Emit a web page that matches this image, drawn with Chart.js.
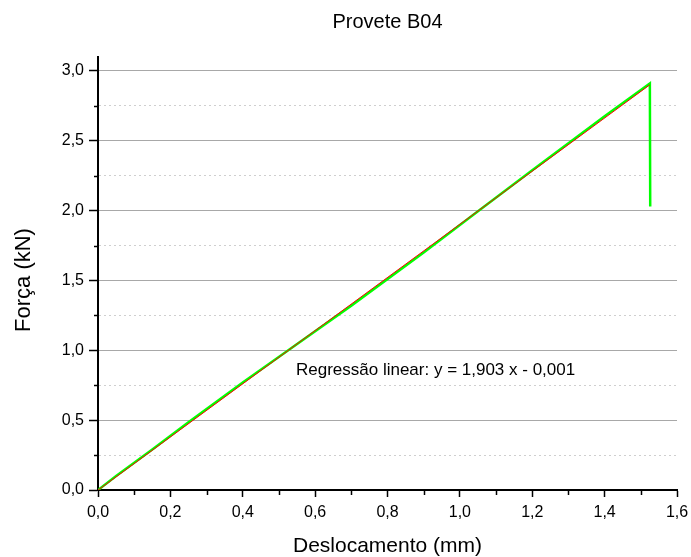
<!DOCTYPE html>
<html>
<head>
<meta charset="utf-8">
<script src="https://cdn.jsdelivr.net/npm/chart.js@4"></script>
<style>
  html, body { margin: 0; padding: 0; background: #fff; }
  #wrap { width: 691px; height: 557px; }
</style>
</head>
<body>
<div id="wrap"><canvas id="provete"></canvas></div>
<script>
// ensaio: deslocamento (mm) vs força (kN)
const deslocamento = [0, 0.05, 0.15, 0.25, 0.4, 0.52, 0.7, 0.9, 1.05, 1.2, 1.4, 1.525, 1.526];
const forca        = [0, 0.10, 0.29, 0.485, 0.77, 0.99, 1.32, 1.70, 1.995, 2.29, 2.675, 2.91, 2.03];

// regressão linear y = 1,903 x - 0,001
const declive = 1.903;
const ordenada = -0.001;
const regX = [0, 1.525];

const xTicks = [0, 0.2, 0.4, 0.6, 0.8, 1.0, 1.2, 1.4, 1.6];
const yTicks = [0, 0.5, 1.0, 1.5, 2.0, 2.5, 3.0];
const xMinor = [0.1, 0.3, 0.5, 0.7, 0.9, 1.1, 1.3, 1.5];
const yMinor = [0.25, 0.75, 1.25, 1.75, 2.25, 2.75];

const fmt = v => v.toFixed(1).replace('.', ',');
const isMajor = (v, step) => Math.abs(v / step - Math.round(v / step)) < 1e-6;

const ensaio = deslocamento.map((x, i) => ({ x: x, y: forca[i] }));
const regressao = regX.map(x => ({ x: x, y: declive * x + ordenada }));

const FONTE = '"Liberation Sans", Arial, sans-serif';
Chart.defaults.font.family = FONTE;
Chart.defaults.color = '#000';

// título, título do eixo y, texto da regressão, riscos secundários
const extras = {
  id: 'extras',
  afterDraw(chart) {
    const { ctx, scales } = chart;
    const area = chart.chartArea;
    ctx.save();
    ctx.strokeStyle = '#000';
    ctx.lineWidth = 1.5;
    ctx.beginPath();
    xMinor.forEach(v => {
      const px = Math.round(scales.x.getPixelForValue(v)) + 0.5;
      ctx.moveTo(px, area.bottom);
      ctx.lineTo(px, area.bottom + 5);
    });
    yMinor.forEach(v => {
      const py = Math.round(scales.y.getPixelForValue(v)) + 0.5;
      ctx.moveTo(area.left, py);
      ctx.lineTo(area.left - 4, py);
    });
    ctx.stroke();
    ctx.fillStyle = '#000';
    ctx.textBaseline = 'middle';
    ctx.textAlign = 'center';
    ctx.font = '20px ' + FONTE;
    ctx.fillText('Provete B04', (area.left + area.right) / 2, 22);
    ctx.save();
    ctx.translate(24, 280);
    ctx.rotate(-Math.PI / 2);
    ctx.font = '22px ' + FONTE;
    ctx.fillText('Força (kN)', 0, 0);
    ctx.restore();
    ctx.textAlign = 'left';
    ctx.font = '17px ' + FONTE;
    ctx.fillText('Regressão linear: y = 1,903 x - 0,001', scales.x.getPixelForValue(0.547), scales.y.getPixelForValue(0.857));
    ctx.restore();
  }
};

new Chart(document.getElementById('provete'), {
  type: 'scatter',
  data: {
    datasets: [
      {
        label: 'Regressão',
        data: regressao,
        showLine: true,
        borderColor: '#ff0000',
        borderWidth: 1,
        pointRadius: 0
      },
      {
        label: 'B04',
        data: ensaio,
        showLine: true,
        borderColor: '#00ff00',
        borderWidth: 2.5,
        pointRadius: 0,
        tension: 0
      }
    ]
  },
  options: {
    responsive: true,
    maintainAspectRatio: false,
    animation: false,
    layout: { padding: { top: 57, right: 0, left: 0, bottom: 0 } },
    plugins: {
      legend: { display: false },
      tooltip: { enabled: false },
      title: { display: false }
    },
    scales: {
      x: {
        type: 'linear',
        min: 0,
        max: 1.6,
        afterBuildTicks: s => { s.ticks = xTicks.map(v => ({ value: v })); },
        afterFit: s => { s.height = 67; s.paddingRight = 14; s.paddingLeft = 0; },
        ticks: {
          autoSkip: false,
          maxRotation: 0,
          font: { size: 16 },
          padding: 6,
          callback: v => fmt(v)
        },
        grid: { drawOnChartArea: false, tickLength: 7, tickColor: '#000', tickWidth: 1.5 },
        border: { color: '#000', width: 2 },
        title: { display: true, text: 'Deslocamento (mm)', font: { size: 21, lineHeight: 1 }, padding: { top: 0, bottom: 0 } }
      },
      y: {
        type: 'linear',
        min: 0,
        max: 3.1,
        afterBuildTicks: s => {
          s.ticks = yTicks.concat(yMinor).sort((a, b) => a - b).map(v => ({ value: v }));
        },
        afterFit: s => { s.width = 98; s.paddingTop = 0; s.paddingBottom = 0; },
        ticks: {
          autoSkip: false,
          font: { size: 16 },
          padding: 5,
          callback: v => isMajor(v, 0.5) ? fmt(v) : ''
        },
        grid: {
          tickLength: 9,
          tickWidth: 1.5,
          tickColor: c => (c.tick && isMajor(c.tick.value, 0.5)) ? '#000' : 'rgba(0,0,0,0)',
          lineWidth: 1,
          color: c => (c.tick && c.tick.value === 0) ? 'rgba(0,0,0,0)' :
            (c.tick && isMajor(c.tick.value, 0.5) ? '#a8a8a8' : '#cfcfcf')
        },
        border: {
          color: '#000',
          width: 2,
          dash: c => (c.tick && !isMajor(c.tick.value, 0.5)) ? [2, 3] : []
        },
        title: { display: false }
      }
    }
  },
  plugins: [extras]
});
</script>
</body>
</html>
